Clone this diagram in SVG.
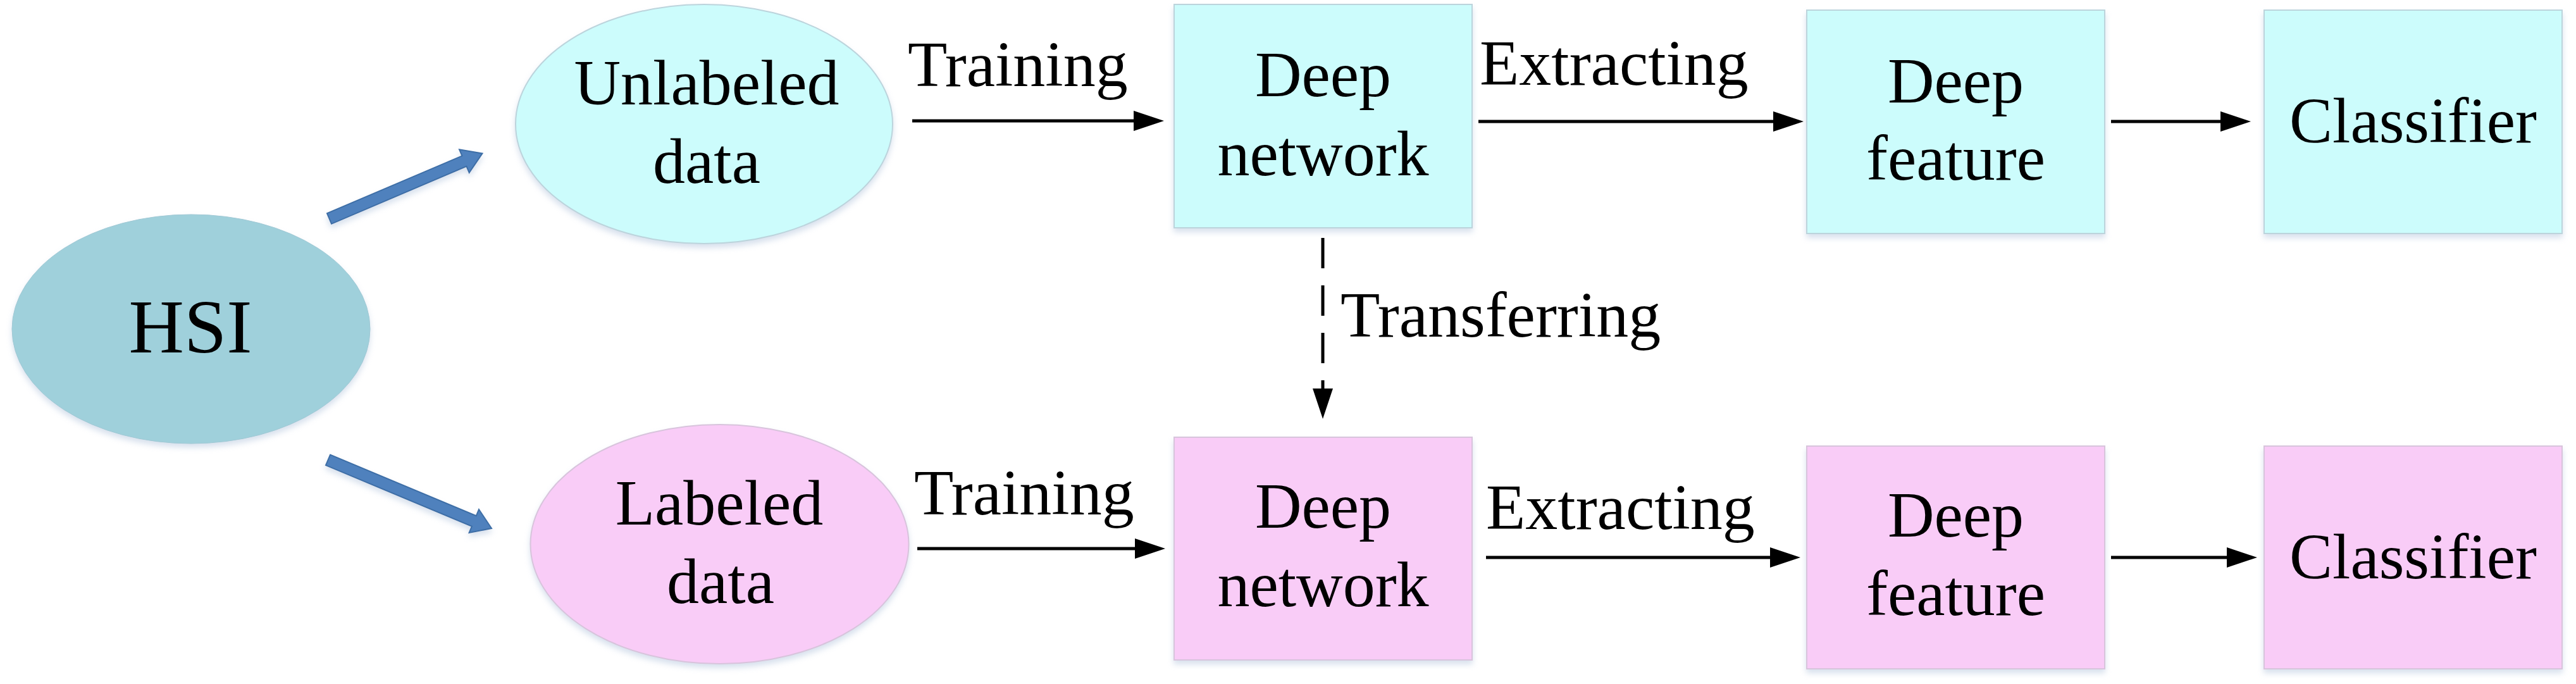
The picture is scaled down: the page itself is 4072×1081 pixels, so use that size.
<svg xmlns="http://www.w3.org/2000/svg" width="4072" height="1081" viewBox="0 0 4072 1081">
<style>
text{font-family:"Liberation Serif","Times New Roman",serif;font-size:102px;fill:#000}
.c{text-anchor:middle}
.cy{fill:#ccfcfc;stroke:#bcd4dc;stroke-width:2}
.pk{fill:#f9ccf7;stroke:#d8c4dc;stroke-width:2}
.hsi{fill:#9fd0db;stroke:#9fc8d4;stroke-width:1}
.blk{stroke:#000;stroke-width:5;fill:none}
.ba{fill:#4f81bd;stroke:#3d6ea6;stroke-width:2}
</style>
<defs>
<filter id="sh" x="-10%" y="-10%" width="120%" height="130%">
<feDropShadow dx="0" dy="6" stdDeviation="5" flood-color="#a8bcd8" flood-opacity="0.45"/>
</filter>
<marker id="ah" markerUnits="userSpaceOnUse" markerWidth="48" markerHeight="32" refX="8" refY="16" orient="auto">
<path d="M0,0 L48,16 L0,32 z" fill="#000"/>
</marker>
</defs>

<g id="hsi">
<ellipse class="hsi" cx="302" cy="520" rx="283" ry="181" filter="url(#sh)"/>
<text class="c" x="301" y="557" style="font-size:121px">HSI</text>
</g>
<g id="unlabeled">
<ellipse class="cy" cx="1113" cy="196" rx="298" ry="189" filter="url(#sh)"/>
<text class="c" x="1117" y="165">Unlabeled</text>
<text class="c" x="1117" y="289">data</text>
</g>
<g id="labeled">
<ellipse class="pk" cx="1137.5" cy="860" rx="299" ry="189" filter="url(#sh)"/>
<text class="c" x="1137" y="829">Labeled</text>
<text class="c" x="1139" y="953">data</text>
</g>
<g id="dn1">
<rect class="cy" x="1856" y="7" width="471" height="353" filter="url(#sh)"/>
<text class="c" x="2091.5" y="152">Deep</text>
<text class="c" x="2091.5" y="277">network</text>
</g>
<g id="df1">
<rect class="cy" x="2856" y="16" width="471" height="353" filter="url(#sh)"/>
<text class="c" x="3091.5" y="162">Deep</text>
<text class="c" x="3091.5" y="284">feature</text>
</g>
<g id="cl1">
<rect class="cy" x="3579" y="16" width="471" height="353" filter="url(#sh)"/>
<text class="c" x="3814.5" y="225">Classifier</text>
</g>
<g id="dn2">
<rect class="pk" x="1856" y="691" width="471" height="352" filter="url(#sh)"/>
<text class="c" x="2091.5" y="834">Deep</text>
<text class="c" x="2091.5" y="958">network</text>
</g>
<g id="df2">
<rect class="pk" x="2856" y="705" width="471" height="352" filter="url(#sh)"/>
<text class="c" x="3091.5" y="848">Deep</text>
<text class="c" x="3091.5" y="972">feature</text>
</g>
<g id="cl2">
<rect class="pk" x="3579" y="705" width="471" height="352" filter="url(#sh)"/>
<text class="c" x="3814.5" y="914">Classifier</text>
</g>

<g id="connectors">
<polygon class="ba" filter="url(#sh)" points="517,337.2 730.4,246.3 726.1,236.2 762.5,242.4 741.7,273 737.4,262.9 524,353.8"/>
<polygon class="ba" filter="url(#sh)" points="522,718.7 752.8,815.2 757,805 777,835 741.6,842 745.8,831.8 515,735.3"/>
<line class="blk" x1="1442" y1="191" x2="1800" y2="191" marker-end="url(#ah)"/>
<line class="blk" x1="1450" y1="867" x2="1802" y2="867" marker-end="url(#ah)"/>
<line class="blk" x1="2337" y1="192" x2="2811" y2="192" marker-end="url(#ah)"/>
<line class="blk" x1="2349" y1="881" x2="2806" y2="881" marker-end="url(#ah)"/>
<line class="blk" x1="3337" y1="192" x2="3518" y2="192" marker-end="url(#ah)"/>
<line class="blk" x1="3337" y1="881" x2="3528" y2="881" marker-end="url(#ah)"/>
<line class="blk" x1="2091" y1="376" x2="2091" y2="622" stroke-dasharray="48 27" marker-end="url(#ah)"/>
<text x="1435" y="136">Training</text>
<text x="1445" y="813">Training</text>
<text x="2339" y="134">Extracting</text>
<text x="2349" y="836">Extracting</text>
<text x="2119" y="532">Transferring</text>
</g>
</svg>
